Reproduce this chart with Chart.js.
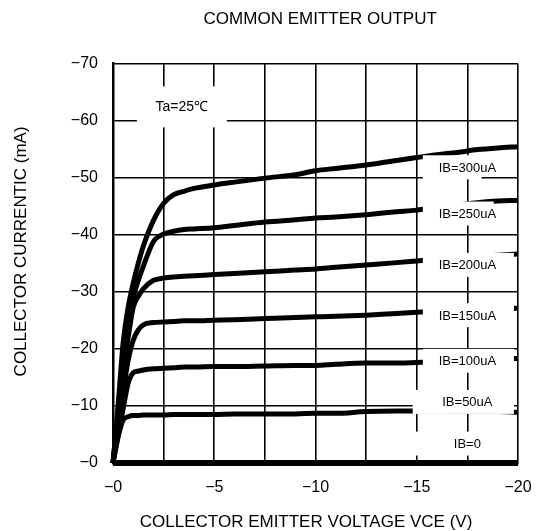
<!DOCTYPE html>
<html>
<head>
<meta charset="utf-8">
<script src="https://cdn.jsdelivr.net/npm/chart.js@4.4.1/dist/chart.umd.min.js"></script>
<style>
  html, body { margin: 0; padding: 0; background: #fff; }
  #wrap { width: 539px; height: 531px; }
</style>
</head>
<body>
<div id="wrap"><canvas id="ceChart"></canvas></div>
<script>
// VCE sample points (V)
const vce = [0, -0.25, -0.5, -0.75, -1, -1.25, -1.5, -2, -2.5, -3, -3.5, -4, -5, -6, -7.5, -9, -10, -11, -12.5, -14, -15, -16, -17, -18, -19, -20];

// collector current IC (mA) for each base current
const ib300 = [0, -10, -21, -27.3, -31.5, -35, -38, -42.5, -45.5, -47, -47.6, -48.1, -48.7, -49.2, -49.9, -50.5, -51.2, -51.6, -52.2, -53.0, -53.5, -54.0, -54.4, -54.9, -55.2, -55.4];
const ib250 = [0, -9, -19, -25, -29, -32, -34.5, -38.8, -40.1, -40.6, -40.9, -41.0, -41.2, -41.6, -42.2, -42.6, -42.9, -43.1, -43.5, -44.0, -44.3, -44.8, -45.2, -45.6, -45.9, -46.0];
const ib200 = [0, -8, -16, -22, -27.3, -29.2, -30.5, -32.0, -32.4, -32.6, -32.7, -32.8, -33.0, -33.2, -33.5, -33.8, -34.0, -34.3, -34.7, -35.1, -35.4, -35.7, -36.0, -36.2, -36.4, -36.6];
const ib150 = [0, -7, -12.5, -18, -21.5, -23.3, -24.2, -24.6, -24.7, -24.8, -24.9, -24.9, -25.0, -25.1, -25.3, -25.5, -25.6, -25.7, -25.9, -26.2, -26.4, -26.6, -26.8, -26.9, -27.0, -27.1];
const ib100 = [0, -5, -9.5, -14, -15.8, -16.1, -16.3, -16.5, -16.6, -16.7, -16.8, -16.8, -16.9, -16.9, -17.0, -17.1, -17.1, -17.3, -17.5, -17.5, -17.6, -17.8, -18.0, -18.1, -18.2, -18.3];
const ib50  = [0, -4.5, -7.5, -8.1, -8.3, -8.3, -8.4, -8.4, -8.4, -8.5, -8.5, -8.5, -8.5, -8.6, -8.6, -8.6, -8.7, -8.7, -9.0, -9.1, -9.1, -9.1, -9.0, -9.0, -9.0, -8.9];
const ib0   = [0, 0, 0, 0, 0, 0, 0, 0, 0, 0, 0, 0, 0, 0, 0, 0, 0, 0, 0, 0, 0, 0, 0, 0, 0, 0];

// curve labels and the current they sit at
const curveLabels = ["IB=300uA", "IB=250uA", "IB=200uA", "IB=150uA", "IB=100uA", "IB=50uA", "IB=0"];
const curveLabelIc = [-51.8, -43.7, -34.7, -25.9, -17.9, -10.7, -3.4];

const FONT = '"Liberation Sans", Arial, sans-serif';

// white label boxes: [from VCE, to VCE] for each label
const labelBoxes = [[-15.3, -18.2], [-15.3, -18.8], [-15.3, -19.8], [-15.3, -19.8], [-15.3, -19.8], [-14.8, -19.8], [-14.9, -19.8]];

const curveLabelsPlugin = {
    id: "curveLabels",
    afterDatasetsDraw(chart) {
        const { ctx, scales: { x, y } } = chart;
        ctx.save();
        ctx.font = "13px " + FONT;
        ctx.textAlign = "center";
        ctx.textBaseline = "middle";
        curveLabels.forEach((txt, i) => {
            const py = y.getPixelForValue(curveLabelIc[i]);
            const x1 = x.getPixelForValue(labelBoxes[i][0]);
            const x2 = x.getPixelForValue(labelBoxes[i][1]);
            ctx.fillStyle = "#fff";
            ctx.fillRect(x1, py - 12, x2 - x1, 24);
            ctx.fillStyle = "#000";
            ctx.fillText(txt, x.getPixelForValue(-17.5), py + 1);
        });

        // ambient temperature note
        const tx = x.getPixelForValue(-3.4);
        const ty = y.getPixelForValue(-62.3);
        ctx.fillStyle = "#fff";
        ctx.fillRect(tx - 45, ty - 21, 90, 41);
        ctx.fillStyle = "#000";
        ctx.font = "14px " + FONT;
        ctx.fillText("Ta=25℃", tx, ty);
        ctx.restore();
    }
};

const series = [ib300, ib250, ib200, ib150, ib100, ib50, ib0];

new Chart(document.getElementById("ceChart"), {
    type: "line",
    data: {
        datasets: series.map((vals, i) => ({
            label: curveLabels[i],
            data: vce.map((v, j) => ({ x: v, y: vals[j] })),
            borderColor: "#000",
            borderWidth: i === 6 ? 6 : 5,
            pointRadius: 0,
            cubicInterpolationMode: "monotone",
            clip: 6
        }))
    },
    options: {
        responsive: true,
        maintainAspectRatio: false,
        animation: false,
        layout: { padding: { left: 0, right: 21, top: 0, bottom: 0 } },
        plugins: {
            legend: { display: false },
            tooltip: { enabled: false },
            title: {
                display: true,
                text: "  COMMON EMITTER OUTPUT",
                fullSize: false,
                color: "#000",
                font: { family: FONT, size: 17, weight: "normal" },
                padding: { top: 9, bottom: 34 }
            }
        },
        scales: {
            x: {
                type: "linear",
                min: -20,
                max: 0,
                reverse: true,
                afterFit(scale) { scale.height = 68; },
                grid: { color: "#000", lineWidth: 1.6, drawTicks: true, tickLength: 12, tickColor: "rgba(0,0,0,0)" },
                border: { color: "#000", width: 2.5 },
                ticks: {
                    stepSize: 2.5,
                    autoSkip: false,
                    maxRotation: 0,
                    padding: 3,
                    color: "#000",
                    font: { family: FONT, size: 16 },
                    callback: (v) => Math.abs(v % 5) < 1e-6 ? "\u2212" + Math.abs(v) : ""
                },
                title: {
                    display: true,
                    text: "COLLECTOR EMITTER VOLTAGE VCE (V)    ",
                    color: "#000",
                    font: { family: FONT, size: 17 },
                    padding: { top: 0, bottom: -2 }
                }
            },
            y: {
                type: "linear",
                min: -70,
                max: 0,
                reverse: true,
                afterFit(scale) { scale.width = 113; },
                grid: { color: "#000", lineWidth: 1.6, drawTicks: false },
                border: { color: "#000", width: 2.5 },
                ticks: {
                    stepSize: 10,
                    padding: 15,
                    color: "#000",
                    font: { family: FONT, size: 16 },
                    callback: (v) => "\u2212" + Math.abs(v)
                },
                title: {
                    display: true,
                    text: "     COLLECTOR CURRENTIC (mA)",
                    color: "#000",
                    font: { family: FONT, size: 17 },
                    padding: { top: 11, bottom: 0 }
                }
            }
        }
    },
    plugins: [curveLabelsPlugin]
});
</script>
</body>
</html>
